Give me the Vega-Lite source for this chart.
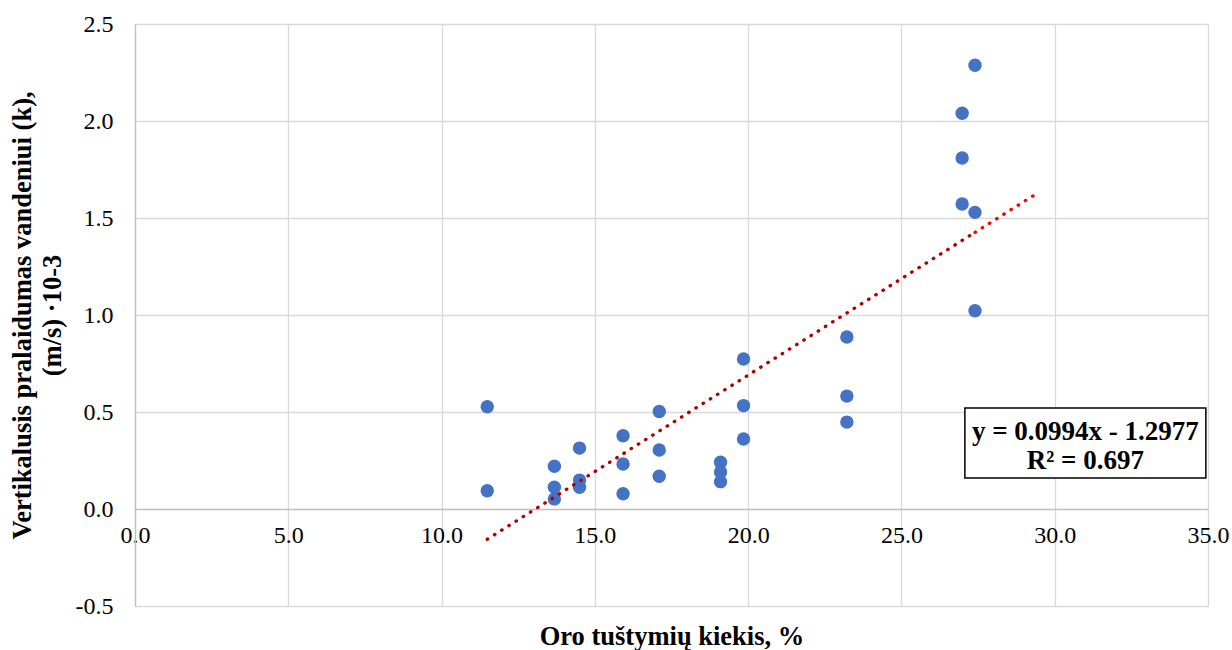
{
  "$schema": "https://vega.github.io/schema/vega-lite/v6.json",
  "width": 1073,
  "height": 582,
  "autosize": {"type": "none"},
  "padding": {"left": 135, "top": 24, "right": 24, "bottom": 44},
  "background": "white",
  "config": {
    "view": {"stroke": null},
    "font": "Liberation Serif",
    "axis": {
      "gridColor": "#d9d9d9",
      "gridWidth": 1.3,
      "labelFont": "Liberation Serif",
      "titleFont": "Liberation Serif",
      "labelColor": "#000000",
      "titleColor": "#000000",
      "labelFontSize": 24,
      "titleFontSize": 26.5,
      "titleFontWeight": "bold",
      "ticks": false
    }
  },
  "datasets": {
    "points": [
      {"x": 11.49, "y": 0.527}, {"x": 11.49, "y": 0.094},
      {"x": 13.68, "y": 0.220}, {"x": 13.68, "y": 0.112}, {"x": 13.68, "y": 0.052},
      {"x": 14.50, "y": 0.314}, {"x": 14.50, "y": 0.149}, {"x": 14.50, "y": 0.112},
      {"x": 15.92, "y": 0.378}, {"x": 15.92, "y": 0.232}, {"x": 15.92, "y": 0.079},
      {"x": 17.10, "y": 0.503}, {"x": 17.10, "y": 0.304}, {"x": 17.10, "y": 0.169},
      {"x": 19.10, "y": 0.241}, {"x": 19.10, "y": 0.191}, {"x": 19.10, "y": 0.141},
      {"x": 19.85, "y": 0.773}, {"x": 19.85, "y": 0.533}, {"x": 19.85, "y": 0.361},
      {"x": 23.22, "y": 0.887}, {"x": 23.22, "y": 0.582}, {"x": 23.22, "y": 0.448},
      {"x": 26.98, "y": 2.040}, {"x": 26.98, "y": 1.809}, {"x": 26.98, "y": 1.572},
      {"x": 27.40, "y": 2.287}, {"x": 27.40, "y": 1.529}, {"x": 27.40, "y": 1.022}
    ],
    "trend": [
      {"x": 11.49, "y": -0.156, "part": "a"},
      {"x": 27.40, "y": 1.426, "part": "a"},
      {"x": 27.40, "y": 1.426, "part": "b"},
      {"x": 29.30, "y": 1.615, "part": "b"}
    ],
    "box": [{"x": 27.07, "x2": 34.93, "y": 0.521, "y2": 0.160}],
    "labels": [
      {"x": 31.0, "y": 0.397, "t": "y = 0.0994x - 1.2977"},
      {"x": 31.0, "y": 0.247, "t": "R² = 0.697"}
    ]
  },
  "encoding": {
    "x": {
      "field": "x",
      "type": "quantitative",
      "scale": {"domain": [0, 35], "nice": false, "zero": false},
      "axis": {
        "values": [0, 5, 10, 15, 20, 25, 30, 35],
        "format": ".1f",
        "offset": -97,
        "domain": false,
        "grid": true,
        "labelPadding": 14,
        "labelFlush": false,
        "labelOverlap": false,
        "labelBound": false,
        "title": "Oro tuštymių kiekis, %",
        "titleY": 135,
        "titleBaseline": "alphabetic"
      }
    },
    "y": {
      "field": "y",
      "type": "quantitative",
      "scale": {"domain": [-0.5, 2.5], "nice": false, "zero": false},
      "axis": {
        "values": [-0.5, 0, 0.5, 1, 1.5, 2, 2.5],
        "labelExpr": "datum.value < 0 ? '-' + format(-datum.value, '.1f') : format(datum.value, '.1f')",
        "domain": true,
        "domainColor": "#bfbfbf",
        "domainWidth": 1.3,
        "grid": true,
        "gridColor": {"condition": {"test": "datum.value === 0", "value": "#bfbfbf"}, "value": "#d9d9d9"},
        "labelPadding": 22,
        "labelOverlap": false,
        "labelBound": false,
        "title": ["Vertikalusis pralaidumas vandeniui (k),", "(m/s) ·10-3"],
        "titleX": -113,
        "titleY": 291,
        "titleAngle": -90,
        "titleAlign": "center",
        "titleBaseline": "middle",
        "titleLineHeight": 30
      }
    }
  },
  "layer": [
    {
      "data": {"name": "points"},
      "mark": {"type": "point", "filled": true, "size": 180, "color": "#4472C4", "opacity": 1}
    },
    {
      "data": {"name": "trend"},
      "mark": {"type": "line", "strokeDash": [0.5, 8], "strokeCap": "round", "strokeWidth": 3.3},
      "encoding": {
        "color": {"field": "part", "type": "nominal", "scale": {"domain": ["a", "b"], "range": ["#b00000", "#ff0000"]}, "legend": null},
        "detail": {"field": "part"}
      }
    },
    {
      "data": {"name": "box"},
      "mark": {"type": "rect", "fill": "white", "stroke": "black", "strokeWidth": 1.5},
      "encoding": {
        "x2": {"field": "x2"},
        "y2": {"field": "y2"}
      }
    },
    {
      "data": {"name": "labels"},
      "mark": {"type": "text", "font": "Liberation Serif", "fontWeight": "bold", "fontSize": 27, "align": "center", "baseline": "middle", "color": "black"},
      "encoding": {"text": {"field": "t"}}
    }
  ]
}
